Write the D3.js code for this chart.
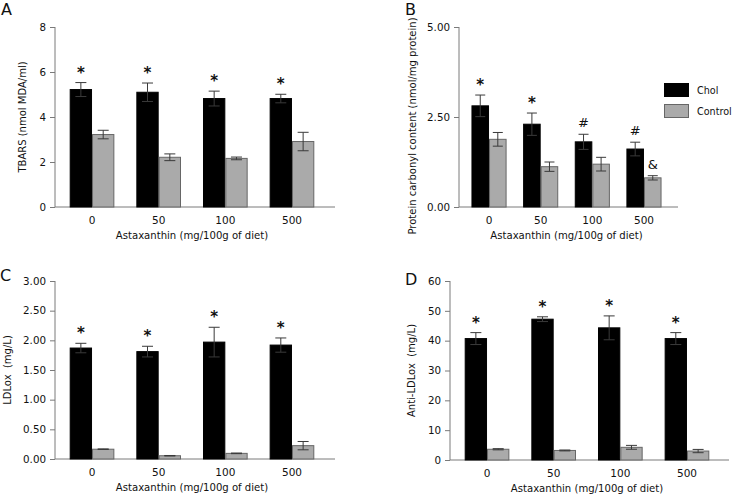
<!DOCTYPE html>
<html>
<head>
<meta charset="utf-8">
<script src="https://cdn.jsdelivr.net/npm/d3@7/dist/d3.min.js"></script>
<style>
  body { margin: 0; background: #fff; }
  svg { display: block; }
  text { font-family: "DejaVu Sans", Verdana, sans-serif; fill: #111; }
</style>
</head>
<body>
<svg id="chart" width="733" height="496"></svg>
<script>
// ---------- data ----------
const categories = ["0", "50", "100", "500"];
const seriesNames = ["Chol", "Control"];

// Panel A: TBARS (nmol MDA/ml)
const tbarsChol = [5.22, 5.10, 4.82, 4.82];
const tbarsCholErr = [0.31, 0.41, 0.33, 0.19];
const tbarsControl = [3.22, 2.21, 2.16, 2.91];
const tbarsControlErr = [0.19, 0.15, 0.06, 0.41];
const tbarsTicks = [0, 2, 4, 6, 8];
const tbarsMarks = ["*", "*", "*", "*"];
const tbarsControlMarks = ["", "", "", ""];

// Panel B: Protein carbonyl content (nmol/mg protein)
const carbChol = [2.81, 2.30, 1.81, 1.61];
const carbCholErr = [0.30, 0.31, 0.21, 0.19];
const carbControl = [1.88, 1.12, 1.19, 0.81];
const carbControlErr = [0.19, 0.13, 0.19, 0.06];
const carbTicks = [0, 2.5, 5];
const carbMarks = ["*", "*", "#", "#"];
const carbControlMarks = ["", "", "", "&"];

// Panel C: LDLox (mg/L)
const ldlChol = [1.87, 1.81, 1.97, 1.92];
const ldlCholErr = [0.08, 0.09, 0.25, 0.12];
const ldlControl = [0.165, 0.055, 0.095, 0.225];
const ldlControlErr = [0.005, 0.004, 0.005, 0.07];
const ldlTicks = [0, 0.5, 1, 1.5, 2, 2.5, 3];
const ldlMarks = ["*", "*", "*", "*"];
const ldlControlMarks = ["", "", "", ""];

// Panel D: Anti-LDLox (mg/L)
const antiChol = [40.7, 47.2, 44.3, 40.7];
const antiCholErr = [2.0, 0.8, 4.0, 2.0];
const antiControl = [3.6, 3.2, 4.25, 3.0];
const antiControlErr = [0.2, 0.15, 0.65, 0.55];
const antiTicks = [0, 10, 20, 30, 40, 50, 60];
const antiMarks = ["*", "*", "*", "*"];
const antiControlMarks = ["", "", "", ""];

const xTitle = "Astaxanthin (mg/100g of diet)";

// ---------- drawing ----------
const svg = d3.select("#chart");
const fillColors = { Chol: "#000000", Control: "#aaaaaa" };
const strokeColors = { Chol: "#000000", Control: "#666666" };

function drawPanel(cfg) {
  const g = svg.append("g");
  const y = d3.scaleLinear().domain([0, cfg.ymax]).range([cfg.bottom, cfg.top]);
  const x = d3.scaleBand().domain(categories).range(cfg.xr)
    .paddingInner(cfg.pad).paddingOuter(cfg.pad / 2);
  const xs = d3.scaleBand().domain(seriesNames).range([0, x.bandwidth()]);

  // axes
  const yAxis = d3.axisLeft(y).tickValues(cfg.ticks).tickFormat(d3.format(cfg.fmt))
    .tickSize(5).tickPadding(4).tickSizeOuter(0);
  const ya = g.append("g").attr("transform", `translate(${cfg.left},0)`).call(yAxis);
  ya.selectAll("path, line").attr("stroke", "#7a7a7a");
  ya.selectAll("text").attr("font-size", 10.3).attr("fill", "#111");
  ya.select(".domain").attr("d", `M0,${cfg.top}V${cfg.bottom}`);

  const xAxis = d3.axisBottom(x).tickSize(0).tickPadding(10).tickSizeOuter(0);
  const xa = g.append("g").attr("transform", `translate(0,${cfg.bottom})`).call(xAxis);
  xa.select(".domain").attr("d", `M${cfg.left},0H${cfg.right}`).attr("stroke", "#7a7a7a");
  xa.selectAll("text").attr("font-size", 10.5).attr("fill", "#111");

  // bars
  const rows = categories.map((c, i) => ({
    cat: c,
    vals: [
      { s: "Chol", v: cfg.chol[i], e: cfg.cholErr[i], m: cfg.cholMarks[i] },
      { s: "Control", v: cfg.control[i], e: cfg.controlErr[i], m: cfg.controlMarks[i] }
    ]
  }));
  const grp = g.selectAll(".grp").data(rows).join("g")
    .attr("transform", d => `translate(${x(d.cat)},0)`);
  const items = grp.selectAll(".it").data(d => d.vals).join("g");
  items.append("rect")
    .attr("x", d => xs(d.s) + 0.5)
    .attr("y", d => y(d.v))
    .attr("width", xs.bandwidth() - 1)
    .attr("height", d => y(0) - y(d.v))
    .attr("fill", d => fillColors[d.s])
    .attr("stroke", d => strokeColors[d.s])
    .attr("stroke-width", 1);
  // error bars
  const cap = cfg.cap;
  const ebColor = "#3a3a3a";
  const cx = d => xs(d.s) + xs.bandwidth() / 2;
  items.append("line")
    .attr("x1", cx).attr("x2", cx)
    .attr("y1", d => y(d.v - d.e))
    .attr("y2", d => y(d.v + d.e))
    .attr("stroke", ebColor).attr("stroke-width", 1);
  items.append("line")
    .attr("x1", d => cx(d) - cap).attr("x2", d => cx(d) + cap)
    .attr("y1", d => y(d.v + d.e)).attr("y2", d => y(d.v + d.e))
    .attr("stroke", ebColor).attr("stroke-width", 1);
  items.append("line")
    .attr("x1", d => cx(d) - cap).attr("x2", d => cx(d) + cap)
    .attr("y1", d => y(d.v - d.e)).attr("y2", d => y(d.v - d.e))
    .attr("stroke", ebColor).attr("stroke-width", 1);
  // significance marks
  items.filter(d => d.m).append("text")
    .attr("x", cx)
    .attr("y", d => y(d.v + d.e) - (d.m === "*" ? 5 : 7))
    .attr("text-anchor", "middle")
    .attr("font-size", d => d.m === "*" ? 15 : 13)
    .attr("font-weight", d => d.m === "*" ? "bold" : "normal")
    .attr("fill", "#000")
    .text(d => d.m);

  // y title
  g.append("text")
    .attr("transform", `translate(${cfg.ytx},${cfg.yty !== undefined ? cfg.yty : (cfg.top + cfg.bottom) / 2}) rotate(-90)`)
    .attr("text-anchor", "middle")
    .attr("font-size", 10)
    .attr("xml:space", "preserve")
    .text(cfg.ytitle);
  // x title
  g.append("text")
    .attr("x", (cfg.xr[0] + cfg.xr[1]) / 2)
    .attr("y", cfg.bottom + 32)
    .attr("text-anchor", "middle")
    .attr("font-size", 10.1)
    .text(xTitle);
  // panel letter
  g.append("text")
    .attr("x", cfg.lx).attr("y", cfg.ly)
    .attr("font-size", 16)
    .attr("fill", "#111")
    .text(cfg.letter);
}

drawPanel({
  letter: "A", lx: 1, ly: 15,
  left: 55, right: 335, top: 27, bottom: 207, xr: [58.7, 325.3], pad: 0.33, cap: 5.5,
  ymax: 8, ticks: tbarsTicks, fmt: "d",
  chol: tbarsChol, cholErr: tbarsCholErr, control: tbarsControl, controlErr: tbarsControlErr,
  cholMarks: tbarsMarks, controlMarks: tbarsControlMarks,
  ytitle: "TBARS (nmol MDA/ml)", ytx: 26
});
drawPanel({
  letter: "B", lx: 405, ly: 15,
  left: 459, right: 678, top: 27, bottom: 207, xr: [463.2, 669.8], pad: 0.32, cap: 5,
  ymax: 5, ticks: carbTicks, fmt: ".2f",
  chol: carbChol, cholErr: carbCholErr, control: carbControl, controlErr: carbControlErr,
  cholMarks: carbMarks, controlMarks: carbControlMarks,
  ytitle: "Protein carbonyl content (nmol/mg protein)", ytx: 416, yty: 126
});
drawPanel({
  letter: "C", lx: 0, ly: 281,
  left: 55, right: 335, top: 281, bottom: 459, xr: [58.7, 325.3], pad: 0.33, cap: 5.5,
  ymax: 3, ticks: ldlTicks, fmt: ".2f",
  chol: ldlChol, cholErr: ldlCholErr, control: ldlControl, controlErr: ldlControlErr,
  cholMarks: ldlMarks, controlMarks: ldlControlMarks,
  ytitle: "LDLox  (mg/L)", ytx: 11
});
drawPanel({
  letter: "D", lx: 405, ly: 285,
  left: 450, right: 729, top: 281, bottom: 460, xr: [453.7, 720.3], pad: 0.33, cap: 5.5,
  ymax: 60, ticks: antiTicks, fmt: "d",
  chol: antiChol, cholErr: antiCholErr, control: antiControl, controlErr: antiControlErr,
  cholMarks: antiMarks, controlMarks: antiControlMarks,
  ytitle: "Anti-LDLox  (mg/L)", ytx: 415
});

// legend
const legend = svg.append("g").attr("transform", "translate(664,83)");
seriesNames.forEach((s, i) => {
  legend.append("rect")
    .attr("x", 0.5).attr("y", i * 21 + 0.5)
    .attr("width", 24).attr("height", 13)
    .attr("fill", fillColors[s]).attr("stroke", strokeColors[s]);
  legend.append("text")
    .attr("x", 33).attr("y", i * 21 + 11)
    .attr("font-size", 9.6)
    .text(s);
});
</script>
</body>
</html>
